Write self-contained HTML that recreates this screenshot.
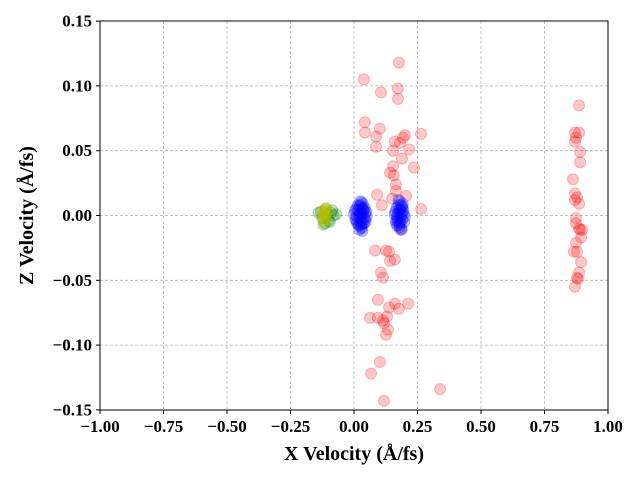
<!DOCTYPE html>
<html><head><meta charset="utf-8"><style>
body{margin:0;background:#fff;}
text{font-family:"Liberation Serif",serif;}
</style></head><body>
<svg id="chart" width="640" height="480">
<g id="grid"></g>
<g id="pts"></g>
<rect x="100" y="21" width="508" height="389" fill="none" stroke="#000" stroke-width="1"/>
<g id="ticks"></g>
<text x="354" y="460" text-anchor="middle" font-size="20" font-weight="bold">X Velocity (Å/fs)</text>
<text transform="translate(33,215.5) rotate(-90)" text-anchor="middle" font-size="20" font-weight="bold">Z Velocity (Å/fs)</text>
</svg>
<script>
const xTicks=[-1,-0.75,-0.5,-0.25,0,0.25,0.5,0.75,1];
const xTickLabels=["−1.00","−0.75","−0.50","−0.25","0.00","0.25","0.50","0.75","1.00"];
const yTicks=[-0.15,-0.1,-0.05,0,0.05,0.1,0.15];
const yTickLabels=["−0.15","−0.10","−0.05","0.00","0.05","0.10","0.15"];
const redX=[0.039,0.177,0.106,0.173,0.173,0.043,0.043,0.102,0.087,0.087,0.201,0.193,0.181,0.161,0.264,0.217,0.154,0.189,0.236,0.154,0.142,0.157,0.165,0.165,0.091,0.150,0.205,0.110,0.264,0.181,0.083,0.126,0.138,0.142,0.161,0.106,0.114,0.094,0.161,0.138,0.177,0.213,0.063,0.094,0.130,0.114,0.118,0.134,0.126,0.102,0.067,0.339,0.118,
0.886,0.870,0.886,0.874,0.870,0.890,0.890,0.862,0.870,0.878,0.870,0.886,0.874,0.874,0.886,0.898,0.890,0.894,0.874,0.866,0.878,0.894,0.886,0.878,0.882,0.870];
const redY=[0.105,0.118,0.095,0.098,0.090,0.072,0.064,0.067,0.061,0.053,0.062,0.060,0.056,0.057,0.063,0.051,0.050,0.044,0.037,0.038,0.033,0.031,0.024,0.019,0.016,0.013,0.015,0.008,0.005,-0.011,-0.027,-0.027,-0.028,-0.035,-0.034,-0.044,-0.048,-0.065,-0.068,-0.071,-0.072,-0.068,-0.079,-0.079,-0.078,-0.081,-0.083,-0.088,-0.092,-0.113,-0.122,-0.134,-0.143,
0.085,0.064,0.064,0.060,0.057,0.049,0.041,0.028,0.017,0.014,0.012,0.009,-0.002,-0.006,-0.010,-0.011,-0.011,-0.017,-0.021,-0.028,-0.028,-0.036,-0.044,-0.048,-0.049,-0.055];
const blueX=[0.02,0.03,0.025,0.035,0.015,0.03,0.04,0.02,0.025,0.03,0.01,0.035,0.02,0.028,0.032,0.022,0.018,0.038,0.026,0.03,
0.0,0.005,0.045,0.05,0.042,0.008,0.012,0.048,0.04,0.015,0.035,0.03,0.02,0.044,0.004,0.025,0.033,0.01,0.046,0.038,0.022,0.028,
0.17,0.18,0.19,0.175,0.185,0.18,0.17,0.19,0.182,0.178,0.188,0.172,0.19,0.18,
0.16,0.165,0.195,0.2,0.185,0.168,0.178,0.198,0.163,0.192,0.175,0.186,0.17,0.182,0.196,0.166,0.18,0.188,0.174,0.19];
const blueY=[0.0,0.005,-0.005,0.002,0.004,0.01,-0.002,-0.008,0.008,-0.01,-0.001,-0.006,0.003,0.0,0.006,-0.003,-0.007,0.004,0.002,-0.004,
0.001,-0.003,0.002,-0.001,0.006,0.005,-0.006,0.003,-0.006,0.008,0.009,-0.009,-0.011,-0.003,0.004,0.011,-0.012,-0.004,-0.005,0.005,0.007,-0.007,
0.0,0.005,-0.003,0.008,-0.006,0.011,-0.008,0.003,-0.002,0.002,0.0,-0.004,0.006,-0.009,
0.001,-0.004,0.004,-0.001,0.008,0.006,-0.007,-0.005,0.003,0.009,0.012,-0.01,-0.002,0.004,0.001,-0.006,-0.005,-0.011,0.002,0.007];
const greenX=[-0.13,-0.1,-0.08,-0.12,-0.11,-0.09,-0.125,-0.105,-0.095,-0.14,-0.07,-0.115,-0.085];
const greenY=[0.003,-0.004,0.0,-0.007,0.005,0.002,-0.002,0.001,-0.005,0.002,0.001,-0.006,0.004];
const yellowX=[-0.12,-0.115,-0.11,-0.118,-0.112,-0.122,-0.108,-0.125,-0.105,-0.115,-0.12,-0.11];
const yellowY=[0.004,0.0,-0.003,0.002,0.005,-0.002,0.001,0.0,0.003,-0.005,-0.004,0.006];
const X=v=>354+v*254, Y=v=>215.5-v*1296;
const NS="http://www.w3.org/2000/svg";
function el(t,a,p){const e=document.createElementNS(NS,t);for(const k in a)e.setAttribute(k,a[k]);p.appendChild(e);return e;}
const grid=document.getElementById('grid'),ticks=document.getElementById('ticks'),pts=document.getElementById('pts');
xTicks.forEach((v,i)=>{
 const g=el('line',{x1:X(v),x2:X(v),y1:21,y2:410,stroke:'#b0b0b0','stroke-width':0.8,'stroke-dasharray':'3,2'},grid);
 
 
 el('line',{x1:X(v),x2:X(v),y1:410,y2:414,stroke:'#000'},ticks);
 const t=el('text',{x:X(v),y:432,'text-anchor':'middle','font-size':17,'font-weight':'bold'},ticks);t.textContent=xTickLabels[i];
 
 
});
yTicks.forEach((v,i)=>{
 const g=el('line',{x1:100,x2:608,y1:Y(v),y2:Y(v),stroke:'#b0b0b0','stroke-width':0.8,'stroke-dasharray':'3,2'},grid);
 
 
 el('line',{x1:96,x2:100,y1:Y(v),y2:Y(v),stroke:'#000'},ticks);
 const t=el('text',{x:92,y:Y(v)+5.5,'text-anchor':'end','font-size':17,'font-weight':'bold'},ticks);t.textContent=yTickLabels[i];
 
 
});
function series(xs,ys,col,name){xs.forEach((x,i)=>{
 const c=el('circle',{cx:X(x),cy:Y(ys[i]),r:5.5,fill:col,'fill-opacity':0.22,stroke:col,'stroke-opacity':0.25,'stroke-width':1},pts);
 
 
});}
series(redX,redY,'#ff0000','red-point');
series(greenX,greenY,'#008000','green-point');
series(blueX,blueY,'#0000ff','blue-point');
series(yellowX,yellowY,'#bfbf00','yellow-point');
</script>
</body></html>
